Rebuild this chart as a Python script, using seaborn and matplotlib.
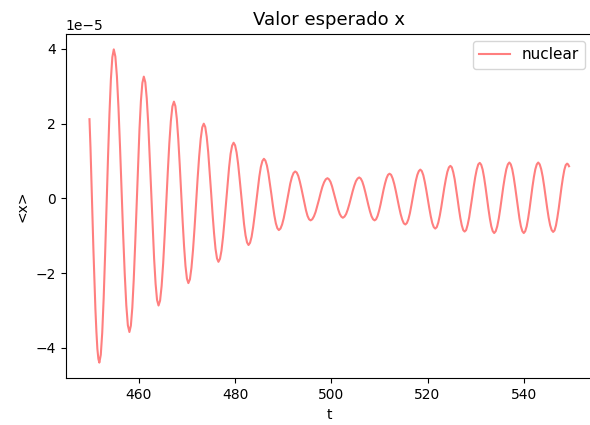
import matplotlib
matplotlib.use("Agg")
import numpy as np
import pandas as pd
import matplotlib.pyplot as plt
import seaborn as sns

# Valores: tiempo t y <x> (en unidades de 1e-5)
t_vals = [
    449.75, 449.96, 450.16, 450.37, 450.57, 450.78, 450.98, 451.19, 451.39, 451.6,
    451.8, 452.1, 452.4, 452.7, 453.0, 453.3, 453.6, 453.9, 454.2, 454.5,
    454.8, 455.125, 455.45, 455.775, 456.1, 456.425, 456.75, 457.075, 457.4, 457.725,
    458.05, 458.35, 458.65, 458.95, 459.25, 459.55, 459.84, 460.14, 460.44, 460.74,
    461.04, 461.35, 461.65, 461.96, 462.26, 462.57, 462.88, 463.18, 463.49, 463.79,
    464.1, 464.42, 464.74, 465.06, 465.38, 465.7, 466.02, 466.34, 466.66, 466.98,
    467.3, 467.6, 467.9, 468.2, 468.5, 468.8, 469.1, 469.4, 469.7, 470.0,
    470.3, 470.62, 470.94, 471.26, 471.58, 471.9, 472.22, 472.54, 472.86, 473.18,
    473.5, 473.81, 474.11, 474.42, 474.72, 475.03, 475.33, 475.64, 475.94, 476.25,
    476.55, 476.87, 477.18, 477.5, 477.81, 478.13, 478.44, 478.76, 479.07, 479.39,
    479.7, 480.01, 480.32, 480.63, 480.94, 481.25, 481.56, 481.87, 482.18, 482.49,
    482.8, 483.12, 483.44, 483.76, 484.08, 484.4, 484.72, 485.04, 485.36, 485.68,
    486.0, 486.31, 486.62, 486.93, 487.24, 487.55, 487.86, 488.17, 488.48, 488.79,
    489.1, 489.44, 489.78, 490.12, 490.46, 490.8, 491.14, 491.48, 491.82, 492.16,
    492.5, 492.82, 493.14, 493.46, 493.78, 494.1, 494.42, 494.74, 495.06, 495.38,
    495.7, 496.05, 496.4, 496.75, 497.1, 497.45, 497.8, 498.15, 498.5, 498.85,
    499.2, 499.52, 499.84, 500.16, 500.48, 500.8, 501.12, 501.44, 501.76, 502.08,
    502.4, 502.74, 503.08, 503.42, 503.76, 504.1, 504.44, 504.78, 505.12, 505.46,
    505.8, 506.12, 506.44, 506.76, 507.08, 507.4, 507.72, 508.04, 508.36, 508.68,
    509.0, 509.31, 509.62, 509.93, 510.24, 510.55, 510.86, 511.17, 511.48, 511.79,
    512.1, 512.43, 512.76, 513.09, 513.42, 513.75, 514.08, 514.41, 514.74, 515.07,
    515.4, 515.71, 516.02, 516.33, 516.64, 516.95, 517.26, 517.57, 517.88, 518.19,
    518.5, 518.81, 519.12, 519.43, 519.74, 520.05, 520.36, 520.67, 520.98, 521.29,
    521.6, 521.92, 522.23, 522.55, 522.86, 523.18, 523.49, 523.81, 524.12, 524.44,
    524.75, 525.05, 525.34, 525.64, 525.93, 526.23, 526.52, 526.82, 527.11, 527.41,
    527.7, 528.02, 528.33, 528.65, 528.96, 529.28, 529.59, 529.91, 530.22, 530.54,
    530.85, 531.15, 531.45, 531.75, 532.05, 532.35, 532.65, 532.95, 533.25, 533.55,
    533.85, 534.17, 534.48, 534.8, 535.11, 535.43, 535.74, 536.06, 536.37, 536.69,
    537.0, 537.3, 537.6, 537.9, 538.2, 538.5, 538.8, 539.1, 539.4, 539.7,
    540.0, 540.3, 540.6, 540.9, 541.2, 541.5, 541.8, 542.1, 542.4, 542.7,
    543.0, 543.31, 543.62, 543.93, 544.24, 544.55, 544.86, 545.17, 545.48, 545.79,
    546.1, 546.39, 546.68, 546.97, 547.26, 547.55, 547.84, 548.13, 548.42, 548.71,
    549.0, 549.2, 549.4,
]
x_vals = [
    2.12, 1.36, 0.44, -0.48, -1.38, -2.23, -2.96, -3.57, -4.03, -4.30,
    -4.40, -4.19, -3.60, -2.67, -1.50, -0.21, 1.09, 2.26, 3.19, 3.78,
    3.99, 3.80, 3.27, 2.43, 1.37, 0.20, -0.97, -2.02, -2.86, -3.40,
    -3.58, -3.41, -2.93, -2.17, -1.22, -0.16, 0.90, 1.85, 2.61, 3.09,
    3.26, 3.11, 2.68, 2.00, 1.14, 0.20, -0.75, -1.61, -2.29, -2.72,
    -2.87, -2.74, -2.35, -1.75, -0.98, -0.14, 0.70, 1.47, 2.07, 2.46,
    2.59, 2.47, 2.13, 1.59, 0.91, 0.16, -0.59, -1.27, -1.81, -2.15,
    -2.27, -2.17, -1.86, -1.39, -0.80, -0.14, 0.53, 1.12, 1.59, 1.90,
    2.00, 1.91, 1.65, 1.24, 0.72, 0.15, -0.42, -0.94, -1.35, -1.61,
    -1.70, -1.62, -1.40, -1.04, -0.60, -0.11, 0.39, 0.83, 1.19, 1.41,
    1.49, 1.42, 1.23, 0.93, 0.54, 0.12, -0.30, -0.69, -0.99, -1.18,
    -1.25, -1.19, -1.03, -0.77, -0.45, -0.10, 0.26, 0.58, 0.84, 1.00,
    1.06, 1.01, 0.88, 0.67, 0.40, 0.11, -0.19, -0.46, -0.67, -0.80,
    -0.85, -0.81, -0.70, -0.53, -0.31, -0.07, 0.18, 0.40, 0.57, 0.68,
    0.72, 0.69, 0.60, 0.45, 0.27, 0.07, -0.14, -0.32, -0.47, -0.56,
    -0.59, -0.56, -0.48, -0.36, -0.20, -0.03, 0.15, 0.31, 0.43, 0.51,
    0.54, 0.51, 0.44, 0.32, 0.17, 0.01, -0.15, -0.30, -0.42, -0.49,
    -0.52, -0.49, -0.42, -0.30, -0.15, 0.02, 0.19, 0.34, 0.46, 0.53,
    0.56, 0.53, 0.45, 0.32, 0.16, -0.02, -0.19, -0.35, -0.48, -0.56,
    -0.59, -0.56, -0.47, -0.33, -0.16, 0.04, 0.23, 0.40, 0.54, 0.63,
    0.66, 0.63, 0.53, 0.38, 0.19, -0.02, -0.23, -0.42, -0.57, -0.67,
    -0.70, -0.66, -0.56, -0.40, -0.19, 0.04, 0.26, 0.47, 0.63, 0.73,
    0.77, 0.73, 0.62, 0.44, 0.22, -0.02, -0.26, -0.48, -0.66, -0.77,
    -0.81, -0.77, -0.65, -0.46, -0.23, 0.03, 0.29, 0.52, 0.71, 0.83,
    0.87, 0.83, 0.70, 0.51, 0.26, -0.01, -0.28, -0.53, -0.72, -0.85,
    -0.89, -0.85, -0.71, -0.51, -0.25, 0.03, 0.31, 0.57, 0.77, 0.91,
    0.95, 0.90, 0.77, 0.56, 0.30, 0.01, -0.28, -0.54, -0.75, -0.88,
    -0.93, -0.88, -0.75, -0.54, -0.28, 0.02, 0.31, 0.57, 0.78, 0.91,
    0.96, 0.91, 0.78, 0.57, 0.31, 0.02, -0.28, -0.54, -0.75, -0.88,
    -0.93, -0.88, -0.75, -0.54, -0.28, 0.02, 0.31, 0.57, 0.78, 0.91,
    0.96, 0.91, 0.78, 0.58, 0.32, 0.03, -0.26, -0.52, -0.72, -0.85,
    -0.90, -0.86, -0.73, -0.52, -0.27, 0.02, 0.30, 0.55, 0.76, 0.89,
    0.93, 0.91, 0.86,
]
escala = 1e-5

df = pd.DataFrame({"t": t_vals, "x": np.array(x_vals) * escala})

fig = plt.figure(figsize=(5.9, 4.25), dpi=100)
# el eje derecho queda justo fuera de la imagen, como en el original
ax = fig.add_axes([65.5 / 590, 46.7 / 425, (593 - 65.5) / 590, (391.3 - 46.7) / 425])

sns.lineplot(data=df, x="t", y="x", color="red", alpha=0.5, label="nuclear", ax=ax)

ax.set_title("Valor esperado x", fontsize=13)
ax.set_xlabel("t")
ax.set_ylabel("<x>")
ax.set_xticks([460, 480, 500, 520, 540])
ax.legend(loc="upper right", fontsize=11)

fig.savefig("out.png", dpi=100)
